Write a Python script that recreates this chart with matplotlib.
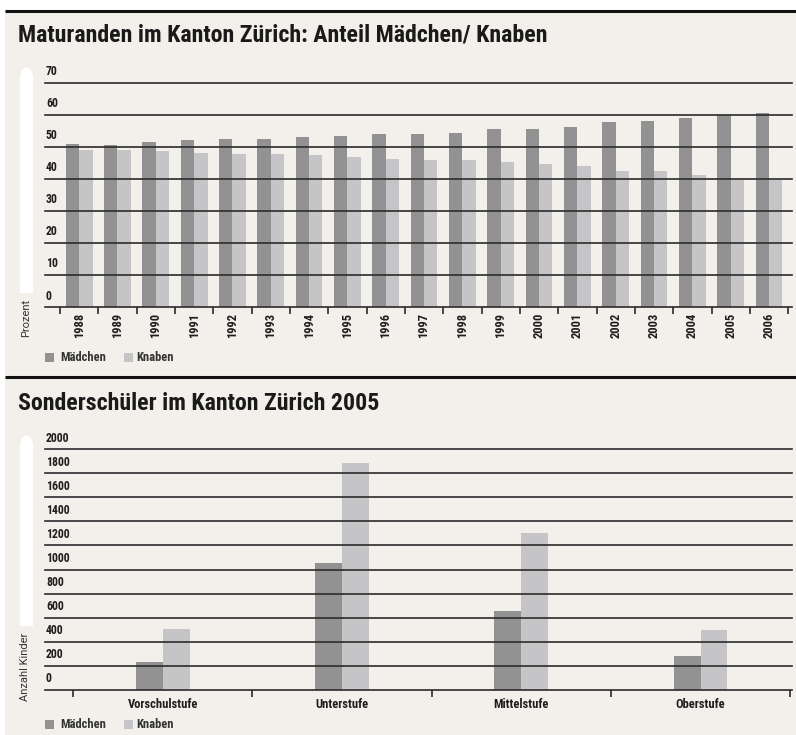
import matplotlib
matplotlib.use("Agg")
import matplotlib.pyplot as plt
from matplotlib.patches import Polygon, Rectangle
from matplotlib.transforms import offset_copy

plt.rcParams['font.family'] = ['Roboto Condensed', 'DejaVu Sans']
plt.rcParams['font.weight'] = 'bold'

# --- Daten ---
jahre = ["1988", "1989", "1990", "1991", "1992", "1993", "1994", "1995", "1996", "1997",
         "1998", "1999", "2000", "2001", "2002", "2003", "2004", "2005", "2006"]
maedchen_pct = [50.8, 50.5, 51.4, 52.0, 52.4, 52.4, 53.1, 53.4, 53.9, 53.9,
                54.4, 55.4, 55.4, 56.3, 57.6, 58.1, 58.9, 59.9, 60.4]
knaben_pct = [49.0, 49.0, 48.8, 48.1, 47.6, 47.6, 47.3, 46.9, 46.3, 45.8,
              45.8, 45.1, 44.5, 43.9, 42.5, 42.5, 41.3, 39.6, 39.6]
yticks_pct = [0, 10, 20, 30, 40, 50, 60, 70]

stufen = ["Vorschulstufe", "Unterstufe", "Mittelstufe", "Oberstufe"]
maedchen_anz = [235, 1055, 655, 285]
knaben_anz = [510, 1880, 1300, 495]
yticks_anz = [0, 200, 400, 600, 800, 1000, 1200, 1400, 1600, 1800, 2000]

W, H = 796, 735
BG = "#f3f0eb"
DUNKEL = "#929292"
HELL = "#c5c5c7"
LINIE = "#2b2b2b"
TEXT = "#1e1e1e"

fig = plt.figure(figsize=(W / 100, H / 100), dpi=100)
fig.patch.set_facecolor("white")

# Overlay in Pixelkoordinaten für Rahmen, Pfeile, Titel
ov = fig.add_axes([0, 0, 1, 1], zorder=0)
ov.set_xlim(0, W)
ov.set_ylim(H, 0)
ov.axis("off")
ov.add_patch(Rectangle((5, 11), W - 5, H - 11, color=BG, lw=0))
ov.plot([5, W], [11, 11], color="#111111", lw=2.2, solid_capstyle="butt")
ov.plot([5, W], [376.5, 376.5], color="#111111", lw=2.2, solid_capstyle="butt")


def pfeil(y_top, y_bot):
    ov.add_patch(Polygon([(20, y_bot), (20, y_top + 9), (22, y_top + 3), (26.5, y_top),
                          (31, y_top + 3), (33, y_top + 9), (33, y_bot)],
                         closed=True, color="white", lw=0))


pfeil(67, 293)
pfeil(435, 626)

ov.text(18, 41.5, "Maturanden im Kanton Zürich: Anteil Mädchen/ Knaben",
        fontsize=17.2, color="#1a1a1a", va="baseline", ha="left")
ov.text(18, 409.5, "Sonderschüler im Kanton Zürich 2005",
        fontsize=17.2, color="#1a1a1a", va="baseline", ha="left")
ov.text(26, 318, "Prozent", rotation=90, fontsize=8, fontweight="normal",
        family=["Roboto", "DejaVu Sans"], color="#333333", ha="center", va="center")
ov.text(25.5, 667, "Anzahl Kinder", rotation=90, fontsize=8, fontweight="normal",
        family=["Roboto", "DejaVu Sans"], color="#333333", ha="center", va="center")


def legende(y):
    ov.add_patch(Rectangle((45, y - 4.5), 9, 9, color=DUNKEL, lw=0))
    ov.text(60, y, "Mädchen", fontsize=9, color="#333333", va="center")
    ov.add_patch(Rectangle((124, y - 4.5), 9, 9, color=HELL, lw=0))
    ov.text(136, y, "Knaben", fontsize=9, color="#333333", va="center")


legende(357.5)
legende(724.5)


def achse(rect, n, xlim, ymax, ticks, ticklabels, breite, m, k, rot, lsize, pad):
    ax = fig.add_axes(rect, zorder=1)
    ax.set_facecolor("none")
    x = list(range(n))
    ax.bar([i - breite / 2 for i in x], m, width=breite, color=DUNKEL, lw=0, zorder=1)
    ax.bar([i + breite / 2 for i in x], k, width=breite, color=HELL, lw=0, zorder=1)
    ax.set_xlim(*xlim)
    ax.set_ylim(0, ymax)
    # Beschriftung sitzt oberhalb der Linie
    trans = offset_copy(ax.get_yaxis_transform(), fig=fig, x=1, y=11, units="dots")
    for t in ticks:
        ax.axhline(t, color=LINIE, lw=1.2, zorder=3, clip_on=False)
        ax.text(0, t, f"{t}", transform=trans, fontsize=8.5,
                color=TEXT, ha="left", va="center")
    for s in ax.spines.values():
        s.set_visible(False)
    ax.set_yticks([])
    ax.set_xticks([i - 0.5 for i in range(n + 1)], minor=True)
    ax.set_xticks(x)
    ax.set_xticklabels(ticklabels, rotation=rot, fontsize=lsize, color=TEXT)
    ax.tick_params(axis="x", which="major", length=0, pad=pad)
    ax.tick_params(axis="x", which="minor", length=5, width=1.2, color=LINIE)
    return ax


# oberes Diagramm: Basis y=307, 70 bei y=82.7, x 45..792
achse([45 / W, (H - 307) / H, (792 - 45) / W, (307 - 82.7) / H],
      len(jahre), (-0.89, 18.6), 70, yticks_pct, jahre, 0.35,
      maedchen_pct, knaben_pct, 90, 9, 4)

# unteres Diagramm: Basis y=690, 2000 bei y=449
achse([45 / W, (H - 690) / H, (792 - 45) / W, (690 - 449) / H],
      len(stufen), (-0.657, 3.51), 2000, yticks_anz, stufen, 0.15,
      maedchen_anz, knaben_anz, 0, 9, 6)

fig.savefig("out.png", dpi=100, facecolor=fig.get_facecolor())
